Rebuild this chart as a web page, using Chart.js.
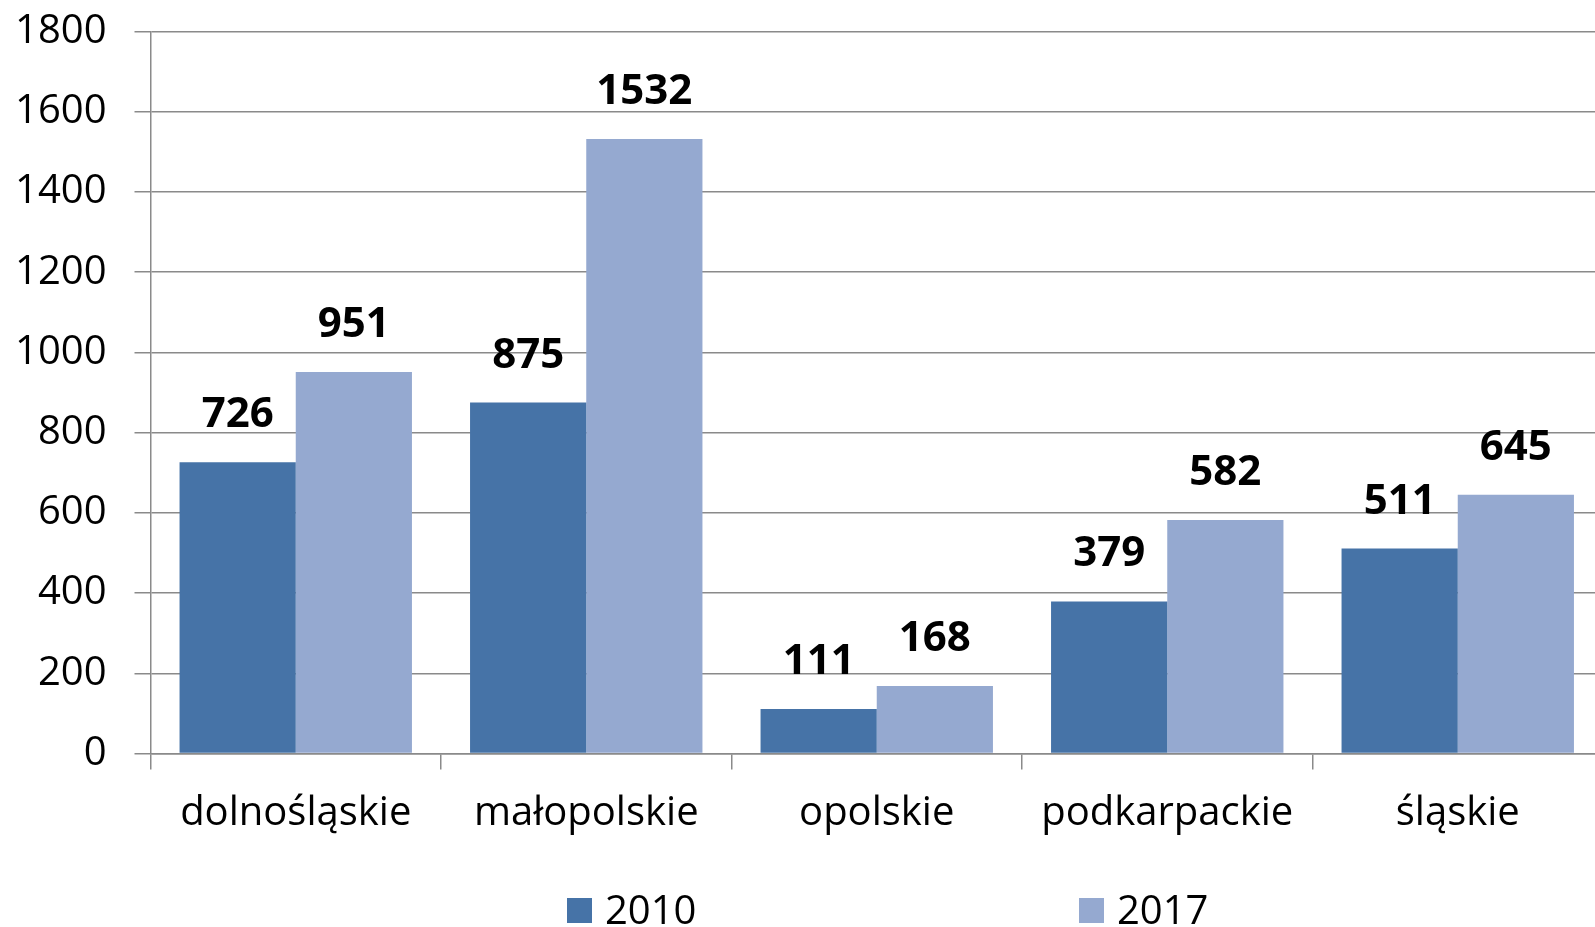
<!DOCTYPE html>
<html>
<head>
<meta charset="utf-8">
<script src="https://cdn.jsdelivr.net/npm/chart.js@4/dist/chart.umd.min.js"></script>
<style>
  html, body { margin: 0; padding: 0; background: #fff; overflow: hidden; }
  canvas { display: block; }
</style>
</head>
<body>
<canvas id="chart" width="1603" height="927"></canvas>
<script>
// data
var regions = ['dolnośląskie', 'małopolskie', 'opolskie', 'podkarpackie', 'śląskie'];
var values2010 = [726, 875, 111, 379, 511];
var values2017 = [951, 1532, 168, 582, 645];
var yTicks = [0, 200, 400, 600, 800, 1000, 1200, 1400, 1600, 1800];

var FONT = '"Open Sans", "DejaVu Sans", sans-serif';
var GRID = '#8a8a8a';

// value labels above each bar
var barLabels = {
    id: 'barLabels',
    afterDatasetsDraw: function (chart) {
        var ctx = chart.ctx;
        ctx.save();
        ctx.font = 'bold 42px ' + FONT;
        ctx.fillStyle = '#000';
        ctx.textAlign = 'center';
        ctx.textBaseline = 'alphabetic';
        chart.data.datasets.forEach(function (ds, i) {
            chart.getDatasetMeta(i).data.forEach(function (bar, j) {
                ctx.fillText(String(ds.data[j]), bar.x, bar.y - 35);
            });
        });
        ctx.restore();
    }
};

// legend drawn at the bottom, items spread apart like the original
var wideLegend = {
    id: 'wideLegend',
    afterDraw: function (chart) {
        var ctx = chart.ctx;
        var starts = [567, 1079];
        ctx.save();
        ctx.font = '40px ' + FONT;
        ctx.textBaseline = 'alphabetic';
        ctx.textAlign = 'left';
        chart.data.datasets.forEach(function (ds, i) {
            ctx.fillStyle = ds.backgroundColor;
            ctx.fillRect(starts[i], 898, 25, 25);
            ctx.fillStyle = '#000';
            ctx.fillText(ds.label, starts[i] + 38, 924);
        });
        ctx.restore();
    }
};

new Chart(document.getElementById('chart'), {
    type: 'bar',
    data: {
        labels: regions,
        datasets: [
            { label: '2010', data: values2010, backgroundColor: '#4673a7' },
            { label: '2017', data: values2017, backgroundColor: '#95a9d0' }
        ]
    },
    options: {
        responsive: false,
        animation: false,
        layout: { padding: { top: 31.5, right: 0, bottom: 0, left: 0 } },
        datasets: { bar: { categoryPercentage: 0.8, barPercentage: 1.0 } },
        plugins: {
            legend: { display: false },
            tooltip: { enabled: false }
        },
        scales: {
            x: {
                grid: { offset: true, drawOnChartArea: false, drawTicks: true, tickLength: 16, color: GRID, lineWidth: 1.5 },
                border: { display: true, color: GRID, width: 1.5 },
                ticks: { font: { family: FONT, size: 40 }, color: '#000', padding: 20, maxRotation: 0, autoSkip: false },
                afterFit: function (scale) { scale.height = 173.5; }
            },
            y: {
                min: 0,
                max: 1800,
                afterBuildTicks: function (scale) {
                    scale.ticks = yTicks.map(function (v) { return { value: v }; });
                },
                grid: { color: GRID, lineWidth: 1.5, tickLength: 16 },
                border: { display: true, color: GRID, width: 1.5 },
                ticks: {
                    font: { family: FONT, size: 40 }, color: '#000', padding: 28,
                    callback: function (v) { return String(v); }
                },
                afterFit: function (scale) {
                    scale.width = 150.5;
                    scale.paddingTop = 0;
                    scale.paddingBottom = 0;
                }
            }
        }
    },
    plugins: [barLabels, wideLegend]
});
</script>
</body>
</html>
